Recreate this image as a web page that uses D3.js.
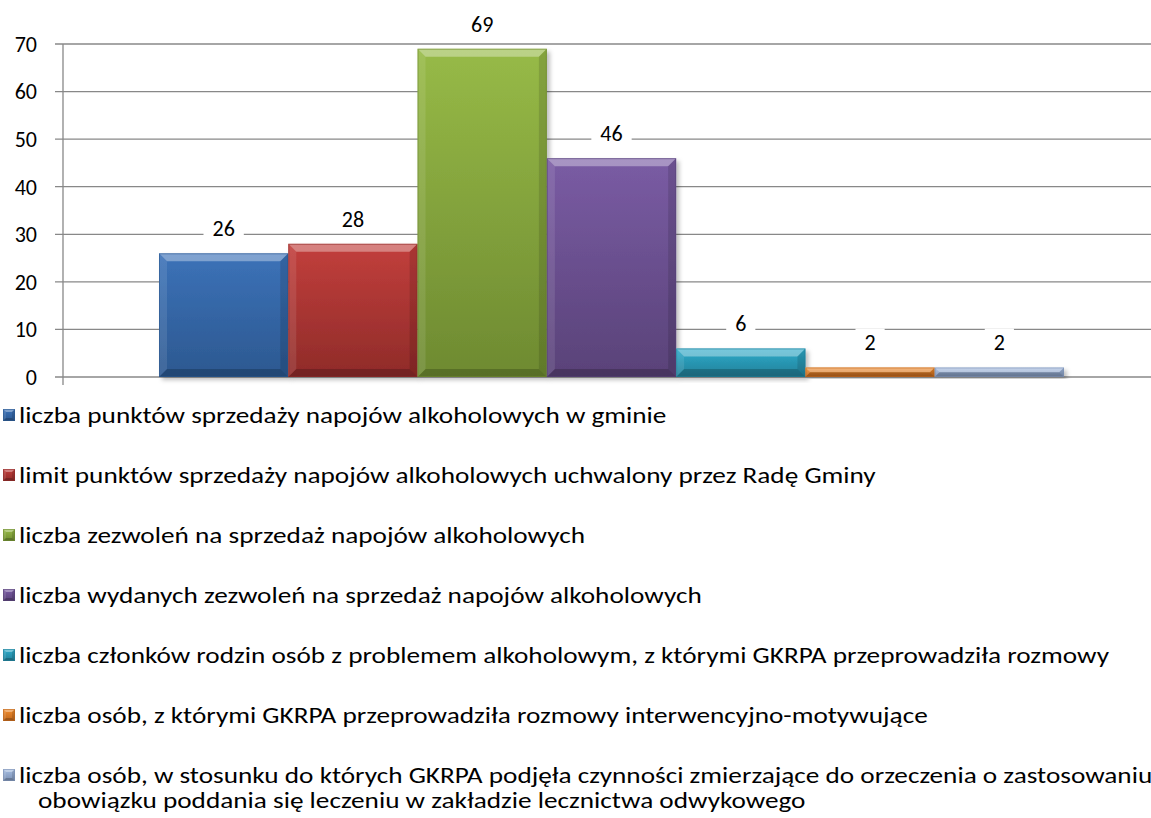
<!DOCTYPE html>
<html><head><meta charset="utf-8">
<script src="https://cdn.jsdelivr.net/npm/d3@7"></script>
<style>
html,body{margin:0;padding:0;background:#fff;}
svg{display:block;font-family:Carlito,Lato,"Open Sans",sans-serif;}
</style></head>
<body>
<svg id="c" width="1151" height="818"></svg>
<script>
// ---- data ----
const series = [
  "liczba punktów sprzedaży napojów alkoholowych w gminie",
  "limit punktów sprzedaży napojów alkoholowych uchwalony przez Radę Gminy",
  "liczba zezwoleń na sprzedaż napojów alkoholowych",
  "liczba wydanych zezwoleń na sprzedaż napojów alkoholowych",
  "liczba członków rodzin osób z problemem alkoholowym, z którymi GKRPA przeprowadziła rozmowy",
  "liczba osób, z którymi GKRPA przeprowadziła rozmowy interwencyjno-motywujące",
  "liczba osób, w stosunku do których GKRPA podjęła czynności zmierzające do orzeczenia o zastosowaniu|obowiązku poddania się leczeniu w zakładzie lecznictwa odwykowego"
];
const values = [26, 28, 69, 46, 6, 2, 2];
const yTicks = [0, 10, 20, 30, 40, 50, 60, 70];
const topColors = ["#3c72b8", "#c23f3c", "#97ba47", "#7a5ca4", "#2eaccb", "#f28d2e", "#a5bde2"];
const bottomColors = ["#2c5890", "#8f2b29", "#6e8a31", "#594278", "#227f98", "#bd651c", "#7b8fb2"];

// ---- layout ----
const svg = d3.select("#c");
const pLeft = 63, pRight = 1151, pTop = 44, pBottom = 377;
const y = d3.scaleLinear().domain([0, 70]).range([pBottom, pTop]);
const x = d3.scaleBand().domain(d3.range(series.length)).range([159, 1064]).paddingInner(0).paddingOuter(0);

const defs = svg.append("defs");
series.forEach((s, i) => {
  const g = defs.append("linearGradient").attr("id", "g" + i).attr("x1", 0).attr("x2", 0).attr("y1", 0).attr("y2", 1);
  g.append("stop").attr("offset", "0%").attr("stop-color", topColors[i]);
  g.append("stop").attr("offset", "100%").attr("stop-color", bottomColors[i]);
});
const f = defs.append("filter").attr("id", "sh").attr("x", "-10%").attr("y", "-10%").attr("width", "130%").attr("height", "130%");
f.append("feDropShadow").attr("dx", 3).attr("dy", 3).attr("stdDeviation", 2).attr("flood-color", "#000").attr("flood-opacity", 0.25);

// gridlines
svg.append("g").selectAll("line").data(yTicks).join("line")
  .attr("x1", 55).attr("x2", pRight).attr("y1", d => y(d)).attr("y2", d => y(d))
  .attr("stroke", "#888").attr("stroke-width", 1.3);
// y axis line
svg.append("line").attr("x1", pLeft).attr("x2", pLeft).attr("y1", pTop).attr("y2", pBottom + 8)
  .attr("stroke", "#888").attr("stroke-width", 1.3);
// tick labels
svg.append("g").selectAll("text").data(yTicks).join("text")
  .attr("x", 37).attr("y", d => y(d)).attr("dy", "0.36em").attr("text-anchor", "end")
  .attr("font-size", 22).attr("fill", "#000").text(d => d);

// bevel drawing
function bevelBox(g, x0, y0, w, h, i, b) {
  b = Math.min(b, h / 2, w / 2);
  g.append("rect").attr("x", x0).attr("y", y0).attr("width", w).attr("height", h).attr("fill", `url(#g${i})`);
  const pts = (a) => a.map(p => p.join(",")).join(" ");
  g.append("polygon").attr("points", pts([[x0, y0], [x0 + w, y0], [x0 + w - b, y0 + b], [x0 + b, y0 + b]]))
    .attr("fill", "#fff").attr("fill-opacity", 0.35);
  g.append("polygon").attr("points", pts([[x0, y0], [x0 + b, y0 + b], [x0 + b, y0 + h - b], [x0, y0 + h]]))
    .attr("fill", "#fff").attr("fill-opacity", 0.1);
  g.append("polygon").attr("points", pts([[x0 + w, y0], [x0 + w, y0 + h], [x0 + w - b, y0 + h - b], [x0 + w - b, y0 + b]]))
    .attr("fill", "#000").attr("fill-opacity", 0.12);
  g.append("polygon").attr("points", pts([[x0, y0 + h], [x0 + b, y0 + h - b], [x0 + w - b, y0 + h - b], [x0 + w, y0 + h]]))
    .attr("fill", "#000").attr("fill-opacity", 0.2);
  g.append("rect").attr("x", x0 + 0.5).attr("y", y0 + 0.5).attr("width", w - 1).attr("height", h - 1)
    .attr("fill", "none").attr("stroke", bottomColors[i]).attr("stroke-opacity", 0.6).attr("stroke-width", 1);
}

// bars
const bars = svg.append("g");
values.forEach((v, i) => {
  const g = bars.append("g").attr("filter", "url(#sh)");
  bevelBox(g, x(i), y(v), x.bandwidth(), y(0) - y(v), i, 8);
});

// data labels with white boxes
const lab = svg.append("g");
values.forEach((v, i) => {
  const cx = x(i) + x.bandwidth() / 2, cy = y(v) - 25;
  const t = lab.append("text").attr("x", cx).attr("y", cy).attr("dy", "0.36em")
    .attr("text-anchor", "middle").attr("font-size", 22).attr("fill", "#000").text(v);
  const w = t.node().getComputedTextLength();
  lab.insert("rect", "text").attr("x", cx - w / 2 - 9).attr("y", cy - 14).attr("width", w + 18).attr("height", 28).attr("fill", "#fff");
});

// legend
const leg = svg.append("g");
const rowY = d3.range(series.length).map(i => 415 + 60 * i);
const texts = [];
series.forEach((s, i) => {
  const g = leg.append("g");
  bevelBox(g, 3, rowY[i] - 6, 12, 12, i, 3);
  const lines = s.split("|");
  lines.forEach((ln, j) => {
    const t = g.append("text").attr("x", j === 0 ? 19 : 38).attr("y", rowY[i] + j * 25).attr("dy", "0.36em")
      .attr("font-size", 22).attr("fill", "#000").text(ln);
    texts.push(t);
  });
});
const refNode = texts[4].node();
const factor = 1090 / refNode.getComputedTextLength();
texts.forEach(t => {
  const n = t.node().getComputedTextLength();
  t.attr("textLength", n * factor).attr("lengthAdjust", "spacingAndGlyphs");
});
</script>
</body></html>
